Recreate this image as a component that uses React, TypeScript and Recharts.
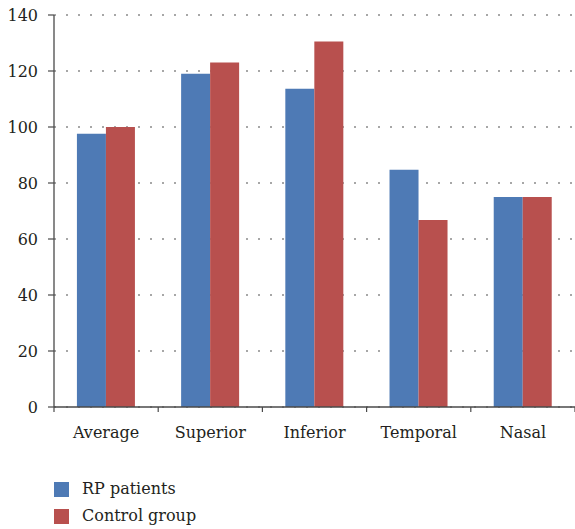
import React from 'react';
import { BarChart, Bar, XAxis, YAxis, CartesianGrid, Legend } from 'recharts';

const categories = ['Average', 'Superior', 'Inferior', 'Temporal', 'Nasal'];
const rpPatients = [97.6, 119, 113.7, 84.7, 75];
const controlGroup = [100, 123, 130.5, 66.8, 75];
const yTicks = [0, 20, 40, 60, 80, 100, 120, 140];
const seriesNames = ['RP patients', 'Control group'];
const seriesColors = ['#4e7ab5', '#b8504e'];

const data = categories.map((c, i) => ({ name: c, rp: rpPatients[i], control: controlGroup[i] }));

const FONT = "'DejaVu Serif', serif";
const FS = 16;
const AXIS = '#4a4a4a';
const TEXT = '#231f20';
const X_TICK_SIZE = 5;
const X_TICK_MARGIN = 15;

const CategoryTick = (props: any) => {
  const { x, y, payload, index, visibleTicksCount } = props;
  const half = payload && payload.offset != null ? payload.offset : 0;
  const axisY = y - X_TICK_SIZE - X_TICK_MARGIN;
  const isLast = index === (visibleTicksCount ?? categories.length) - 1;
  return (
    <g>
      <line x1={x - half} x2={x - half} y1={axisY} y2={axisY + X_TICK_SIZE} stroke={AXIS} strokeWidth={1.2} />
      {isLast && (
        <line x1={x + half} x2={x + half} y1={axisY} y2={axisY + X_TICK_SIZE} stroke={AXIS} strokeWidth={1.2} />
      )}
      <text x={x} y={y} dy="0.71em" textAnchor="middle" fill={TEXT} fontSize={FS} style={{ fontFamily: FONT }}>
        {payload.value}
      </text>
    </g>
  );
};

const LegendContent = () => (
  <div style={{ position: 'relative', height: 50, width: 300, fontFamily: FONT, fontSize: FS, color: TEXT }}>
    {seriesNames.map((n, i) => (
      <React.Fragment key={n}>
        <div
          style={{
            position: 'absolute',
            left: 0,
            top: 3 + i * 27,
            width: 15,
            height: 15,
            background: seriesColors[i],
          }}
        />
        <div style={{ position: 'absolute', left: 28, top: i * 27 - 1, lineHeight: '21px', whiteSpace: 'nowrap' }}>{n}</div>
      </React.Fragment>
    ))}
  </div>
);

export default function App() {
  return (
    <div style={{ position: 'absolute', left: 0, top: 0, width: 575, height: 529, fontFamily: FONT }}>
      <BarChart
        width={575}
        height={529}
        data={data}
        margin={{ top: 15, right: 0, left: 0, bottom: 0 }}
        barCategoryGap="22%"
        barGap={0}
        style={{ fontFamily: FONT }}
      >
        <CartesianGrid
          vertical={false}
          stroke="#8a8a8a"
          strokeWidth={1.5}
          strokeDasharray="2 10"
        />
        <XAxis
          dataKey="name"
          height={72}
          interval={0}
          tickLine={false}
          tickSize={X_TICK_SIZE}
          tickMargin={X_TICK_MARGIN}
          axisLine={{ stroke: AXIS, strokeWidth: 1.3 }}
          tick={<CategoryTick />}
        />
        <YAxis
          width={54}
          domain={[0, 140]}
          ticks={yTicks}
          interval={0}
          tickSize={6}
          tickMargin={10}
          axisLine={{ stroke: AXIS, strokeWidth: 1.3 }}
          tickLine={{ stroke: AXIS, strokeWidth: 1.2 }}
          tick={{ fill: TEXT, fontSize: FS, style: { fontFamily: FONT } }}
        />
        <Legend
          verticalAlign="bottom"
          content={<LegendContent />}
          wrapperStyle={{ left: 54, bottom: 0, width: 300, height: 50 }}
        />
        <Bar dataKey="rp" name={seriesNames[0]} fill={seriesColors[0]} isAnimationActive={false} />
        <Bar dataKey="control" name={seriesNames[1]} fill={seriesColors[1]} isAnimationActive={false} />
      </BarChart>
    </div>
  );
}
